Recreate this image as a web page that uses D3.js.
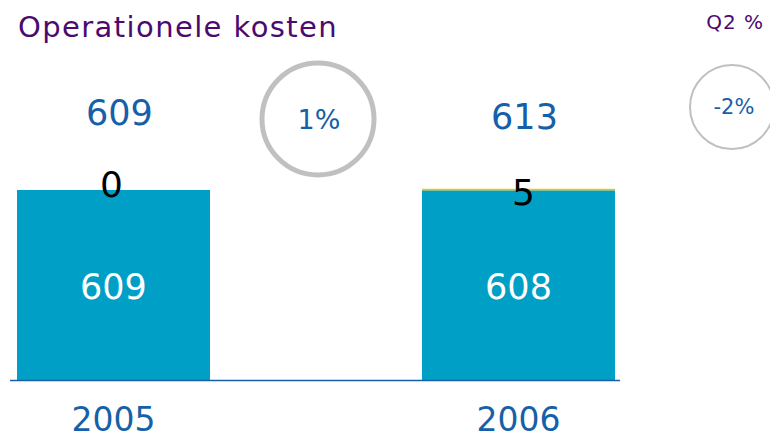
<!DOCTYPE html>
<html>
<head>
<meta charset="utf-8">
<script src="https://cdn.jsdelivr.net/npm/d3@7"></script>
<style>
body { margin: 0; background: #fff; }
text { font-family: "DejaVu Sans", Verdana, sans-serif; }
</style>
</head>
<body>
<div id="chart"></div>
<script>
var years = ['2005', '2006']
var baseValues = [609, 608]
var topValues = [0, 5]
var totals = [609, 613]
var yearChange = ['1%']
var q2Change = ['-2%']

var width = 770, height = 439

var svg = d3.select('#chart').append('svg')
  .attr('width', width)
  .attr('height', height)

var x = d3.scaleBand()
  .domain(years)
  .range([17, 615])
  .paddingInner(0.5235)
  .paddingOuter(0)

var y = d3.scaleLinear()
  .domain([0, 609])
  .range([380, 190])

var data = years.map(function(d, i) {
  return { year: d, base: baseValues[i], top: topValues[i], total: totals[i] }
})

// title
svg.append('text')
  .attr('x', 18).attr('y', 37)
  .attr('fill', '#4b0a6e')
  .style('font-size', '29px')
  .style('letter-spacing', '1.4px')
  .text('Operationele kosten')

svg.append('text')
  .attr('x', 764).attr('y', 29)
  .attr('text-anchor', 'end')
  .attr('fill', '#4b0a6e')
  .style('font-size', '20px')
  .style('letter-spacing', '1px')
  .text('Q2 %')

// bars
svg.selectAll('.base').data(data).enter().append('rect')
  .attr('class', 'base')
  .attr('x', d => x(d.year))
  .attr('width', x.bandwidth())
  .attr('y', d => y(d.base))
  .attr('height', d => y(0) - y(d.base))
  .attr('fill', '#00a0c6')

svg.selectAll('.top').data(data).enter().append('rect')
  .attr('class', 'top')
  .attr('x', d => x(d.year))
  .attr('width', x.bandwidth())
  .attr('y', d => y(d.base + d.top))
  .attr('height', d => y(d.base) - y(d.base + d.top))
  .attr('fill', '#f5c400')

// axis line
svg.append('line')
  .attr('x1', 10).attr('x2', 620)
  .attr('y1', 380.5).attr('y2', 380.5)
  .attr('stroke', '#1560a8')
  .attr('stroke-width', 1.5)

var cx = d => x(d.year) + x.bandwidth() / 2

// labels inside bars
svg.selectAll('.inner').data(data).enter().append('text')
  .attr('x', cx)
  .attr('y', d => (y(0) + y(d.base)) / 2 + 14)
  .attr('text-anchor', 'middle')
  .attr('fill', '#fff')
  .style('font-size', '35px')
  .text(d => d.base)

// top segment labels
svg.selectAll('.seg').data(data).enter().append('text')
  .attr('x', d => cx(d) + (d.top ? 5 : -2))
  .attr('y', d => y(d.base + d.top) + (d.top ? 16 : 7))
  .attr('text-anchor', 'middle')
  .attr('fill', '#000')
  .style('font-size', '36px')
  .text(d => d.top)

// totals
svg.selectAll('.total').data(data).enter().append('text')
  .attr('x', d => cx(d) + 6)
  .attr('y', (d, i) => 125 + i * 4)
  .attr('text-anchor', 'middle')
  .attr('fill', '#1560a8')
  .style('font-size', '35px')
  .text(d => d.total)

// years
svg.selectAll('.year').data(data).enter().append('text')
  .attr('x', cx)
  .attr('y', 431)
  .attr('text-anchor', 'middle')
  .attr('fill', '#1560a8')
  .style('font-size', '33px')
  .text(d => d.year)

// change circles
svg.append('circle')
  .attr('cx', 318).attr('cy', 119).attr('r', 56)
  .attr('fill', 'none')
  .attr('stroke', '#c0c0c0')
  .attr('stroke-width', 5)
svg.append('text')
  .attr('x', 319).attr('y', 129)
  .attr('text-anchor', 'middle')
  .attr('fill', '#1560a8')
  .style('font-size', '27px')
  .text(yearChange[0])

svg.append('circle')
  .attr('cx', 732).attr('cy', 107).attr('r', 42)
  .attr('fill', 'none')
  .attr('stroke', '#c0c0c0')
  .attr('stroke-width', 2)
svg.append('text')
  .attr('x', 734).attr('y', 114)
  .attr('text-anchor', 'middle')
  .attr('fill', '#1560a8')
  .style('font-size', '21px')
  .text(q2Change[0])
</script>
</body>
</html>
